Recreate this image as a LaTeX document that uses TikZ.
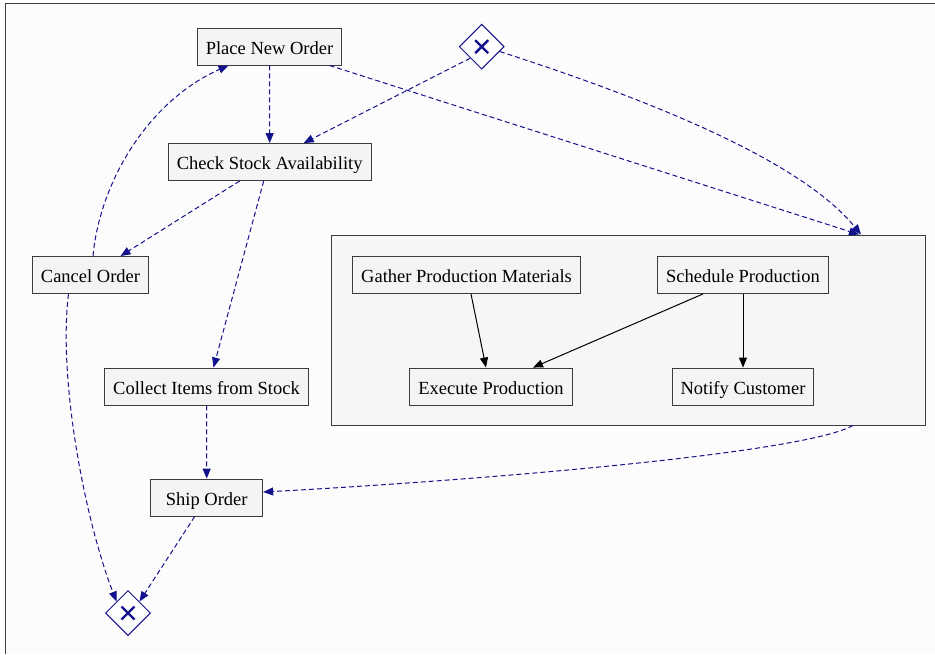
\documentclass[tikz,border=0pt]{standalone}
\usepackage{fontspec}
\setmainfont{Liberation Serif}
\usetikzlibrary{arrows.meta,shapes.geometric,calc}
\definecolor{edgeblue}{RGB}{18,18,140}
\definecolor{nodefill}{RGB}{244,244,244}
\definecolor{clfill}{RGB}{246,246,246}
\definecolor{nodeline}{RGB}{60,60,60}
\definecolor{bg}{RGB}{252,252,252}
\begin{document}
\begin{tikzpicture}[x=1pt,y=-1pt,
 task/.style={draw=nodeline,fill=nodefill,line width=0.9pt,minimum height=37pt,inner xsep=8.5pt,inner ysep=0pt,text height=17pt,text depth=2pt,font=\fontsize{18.5}{22}\selectfont},
 gate/.style={diamond,draw=edgeblue,fill=white,line width=1pt,minimum width=45pt,minimum height=45pt,inner sep=0pt,
   path picture={\draw[edgeblue,line width=2.4pt]
     ([shift={(-6.5pt,-6.5pt)}]path picture bounding box.center) -- ([shift={(6.5pt,6.5pt)}]path picture bounding box.center)
     ([shift={(-6.5pt,6.5pt)}]path picture bounding box.center) -- ([shift={(6.5pt,-6.5pt)}]path picture bounding box.center);}},
 flow/.style={edgeblue,line width=1pt,dash pattern=on 5pt off 3pt,-{Triangle[length=10pt,width=8pt]}},
 solidflow/.style={black,line width=1pt,-{Triangle[length=10pt,width=8pt]}},
 frameline/.style={draw=black!75,line width=1.4pt}]
\useasboundingbox (0,0) rectangle (935,654);
\fill[bg] (5,3) rectangle (935,654);
\draw[frameline] (5.5,654) -- (5.5,3.3) -- (935,3.3);

% cluster
\node[draw=nodeline,fill=clfill,line width=1pt,minimum width=594pt,minimum height=190pt,inner sep=0pt] (cl) at (628,330) {};

% nodes
\node[task] (pno) at (269.5,46.5) {Place New Order};
\node[task] (csa) at (269.7,162) {Check Stock Availability};
\node[gate] (gw1) at (481.7,46.7) {};
\node[task] (co) at (90.5,275) {Cancel Order};
\node[task] (cis) at (206.5,386.5) {Collect Items from Stock};
\node[task,minimum width=112pt] (so) at (206.7,497.5) {Ship Order};
\node[gate] (gw2) at (128,613) {};
\node[task] (gpm) at (466.5,275) {Gather Production Materials};
\node[task] (sp) at (743,275) {Schedule Production};
\node[task] (ep) at (491,386.5) {Execute Production};
\node[task] (nc) at (743,386.5) {Notify Customer};

% dashed flows
\draw[flow] (pno.south) -- (csa.north);
\draw[flow] (gw1.south west) -- ([xshift=34pt]csa.north);
\draw[flow] (gw1.-15) .. controls (650,100) and (800,160) .. ([xshift=233pt]cl.north);
\draw[flow] ([xshift=60pt]pno.south) -- ([xshift=231pt]cl.north);
\draw[flow] ([xshift=-30pt]csa.south) -- ([xshift=30pt]co.north);
\draw[flow] ([xshift=-6pt]csa.south) -- ([xshift=7pt]cis.north);
\draw[flow] ([xshift=2.5pt]co.north) .. controls (100,180) and (150,100) .. ([xshift=-41pt]pno.south);
\draw[flow] ([xshift=-22pt]co.south) .. controls (58,380) and (85,520) .. (gw2.north west);
\draw[flow] (cis.south) -- (so.north);
\draw[flow] ([xshift=-12pt]so.south) -- (gw2.north east);
\draw[flow] ([xshift=225pt]cl.south) .. controls (800,455) and (450,482) .. ([yshift=5.5pt]so.east);

% solid flows inside cluster
\draw[solidflow] ([xshift=4.5pt]gpm.south) -- ([xshift=-5pt]ep.north);
\draw[solidflow] ([xshift=-40pt]sp.south) -- ([xshift=42pt]ep.north);
\draw[solidflow] (sp.south) -- (nc.north);
\end{tikzpicture}
\end{document}
